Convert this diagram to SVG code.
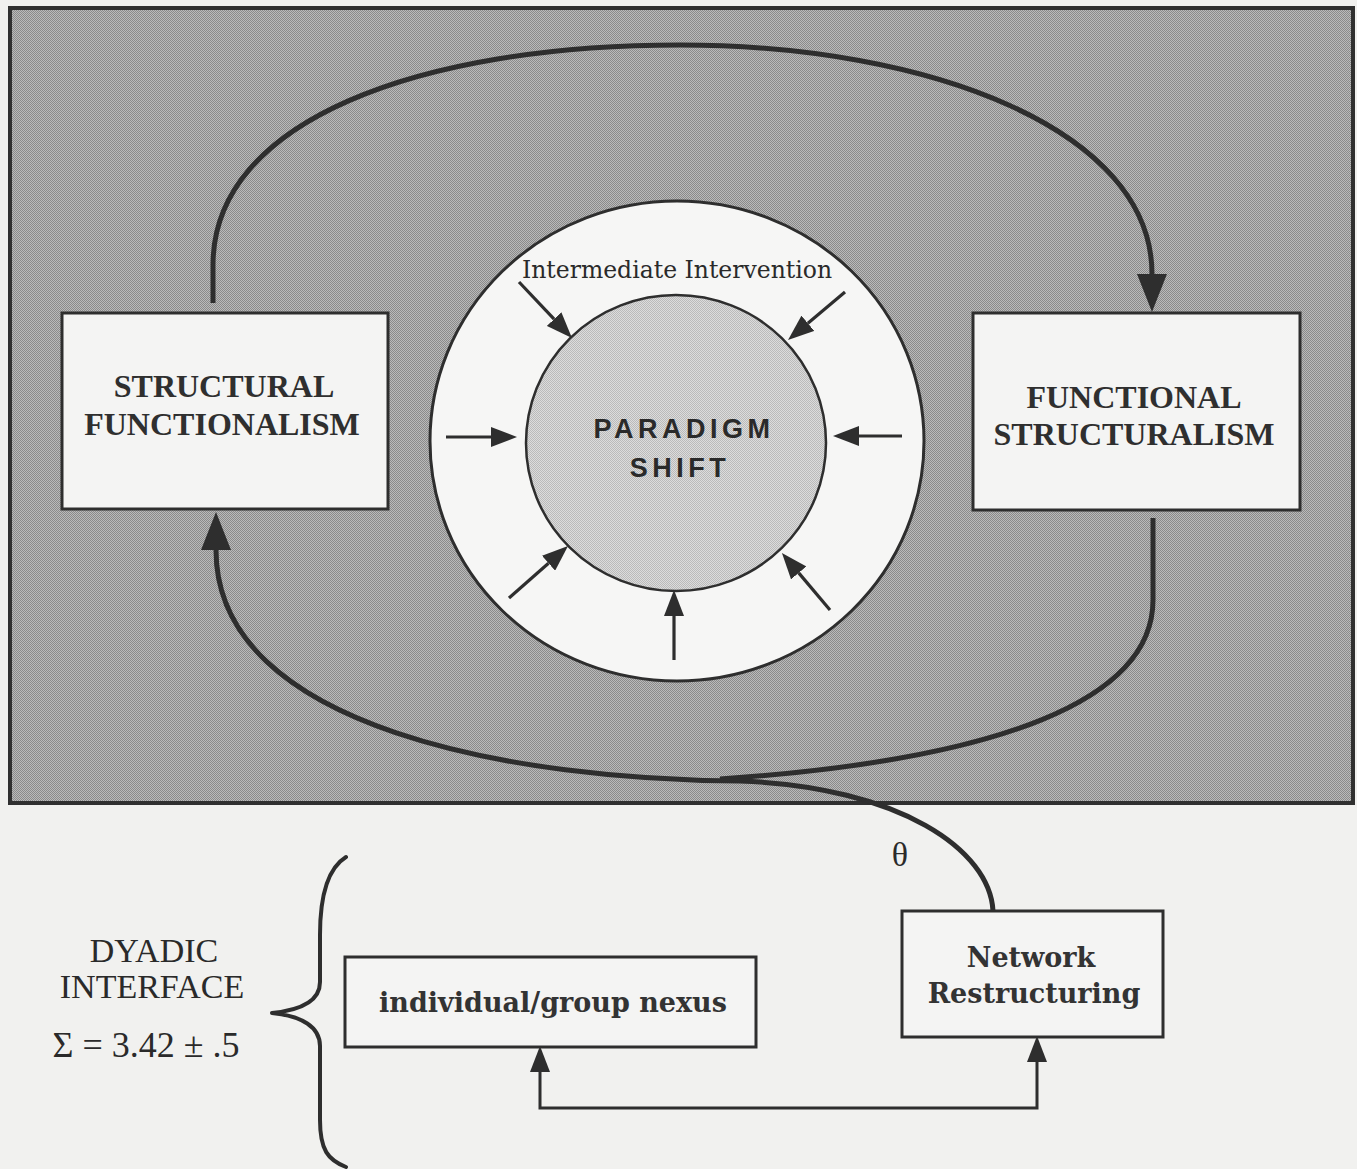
<svg xmlns="http://www.w3.org/2000/svg" width="1357" height="1169" viewBox="0 0 1357 1169">
<style>
  .panel{fill:url(#dotDark);stroke:#303030;stroke-width:4}
  .box{fill:#f4f4f3;stroke:#2e2e2e;stroke-width:3}
  .ring{fill:#f6f6f5;stroke:#2e2e2e;stroke-width:3}
  .core{fill:url(#dotLight);stroke:#2e2e2e;stroke-width:2.5}
  .thick{fill:none;stroke:#2e2e2e;stroke-width:5}
  .thin{fill:none;stroke:#2e2e2e;stroke-width:3.2}
  .link{fill:none;stroke:#2e2e2e;stroke-width:3}
  .brace{fill:none;stroke:#2e2e2e;stroke-width:4;stroke-linecap:round;stroke-linejoin:round}
  .caps{font-family:"Liberation Serif","Times New Roman",serif;font-weight:bold;font-size:32px;fill:#2f2f2f;text-anchor:middle}
  .capsReg{font-family:"Liberation Serif","Times New Roman",serif;font-size:34px;fill:#2a2a2a;text-anchor:middle}
  .math{font-family:"Liberation Serif","Times New Roman",serif;font-size:36px;fill:#2a2a2a;text-anchor:middle}
  .lower{font-family:"DejaVu Serif","Liberation Serif",serif;font-size:23.5px;fill:#2a2a2a;text-anchor:middle}
  .lowerBold{font-family:"DejaVu Serif","Liberation Serif",serif;font-weight:bold;font-size:27px;fill:#333333;text-anchor:middle}
  .sans{font-family:"Liberation Sans",Arial,sans-serif;font-weight:bold;font-size:27px;letter-spacing:4.5px;fill:#2a2a2a;text-anchor:middle}
</style>
<defs>
  <pattern id="dotDark" width="2" height="2" patternUnits="userSpaceOnUse">
    <rect width="2" height="2" fill="#bababa"/>
    <rect width="1" height="1" fill="#8a8a8a"/>
    <rect x="1" y="1" width="1" height="1" fill="#8a8a8a"/>
  </pattern>
  <pattern id="dotLight" width="2" height="2" patternUnits="userSpaceOnUse">
    <rect width="2" height="2" fill="#dcdcdc"/>
    <rect width="1" height="1" fill="#bababa"/>
    <rect x="1" y="1" width="1" height="1" fill="#bababa"/>
  </pattern>
  <marker id="bigArrow" viewBox="0 0 38 30" refX="0" refY="15" markerWidth="38" markerHeight="30" orient="auto" markerUnits="userSpaceOnUse">
    <path d="M0,0 L38,15 L0,30 Z" fill="#2e2e2e"/>
  </marker>
  <marker id="smallArrow" viewBox="0 0 26 20" refX="0" refY="10" markerWidth="26" markerHeight="20" orient="auto-start-reverse" markerUnits="userSpaceOnUse">
    <path d="M0,0 L26,10 L0,20 Z" fill="#2e2e2e"/>
  </marker>
</defs>

<rect width="1357" height="1169" fill="#f1f1ef"/>

<g id="frame">
  <rect class="panel" x="10" y="8" width="1343" height="795"/>
</g>

<g id="intermediate-intervention">
  <ellipse class="ring" cx="677" cy="441" rx="247" ry="240"/>
  <text class="lower" x="677" y="278">Intermediate Intervention</text>
</g>

<g id="paradigm-shift">
  <ellipse class="core" cx="676" cy="443" rx="150" ry="148"/>
  <text class="sans" x="684" y="438">PARADIGM</text>
  <text class="sans" x="680" y="477">SHIFT</text>
</g>

<g id="structural-functionalism">
  <rect class="box" x="62" y="313" width="326" height="196"/>
  <text class="caps" x="224" y="397">STRUCTURAL</text>
  <text class="caps" x="222" y="435">FUNCTIONALISM</text>
</g>

<g id="functional-structuralism">
  <rect class="box" x="973" y="313" width="327" height="197"/>
  <text class="caps" x="1134" y="408">FUNCTIONAL</text>
  <text class="caps" x="1134" y="445">STRUCTURALISM</text>
</g>

<g id="dyadic-interface">
  <path class="brace" d="M346,857 C328,868 320,895 320,935 L320,982 C320,1000 302,1010 272,1013 C302,1016 320,1027 320,1046 L320,1120 C320,1150 328,1160 346,1167"/>
  <text class="capsReg" x="154" y="962">DYADIC</text>
  <text class="capsReg" x="152" y="998">INTERFACE</text>
  <text class="math" x="146" y="1057">Σ = 3.42 ± .5</text>
</g>

<g id="individual-group-nexus">
  <rect class="box" x="345" y="957" width="411" height="90"/>
  <text class="lowerBold" x="553" y="1012">individual/group nexus</text>
</g>

<g id="network-restructuring">
  <rect class="box" x="902" y="911" width="261" height="126"/>
  <text class="lowerBold" x="1031" y="967">Network</text>
  <text class="lowerBold" x="1034" y="1003">Restructuring</text>
</g>

<g id="connectors">
  <path class="thick" marker-end="url(#bigArrow)" d="M213,303 L213,265 C213,120 420,45 680,45 C930,45 1152,130 1152,274"/>
  <path class="thick" d="M1153,518 L1153,600 C1153,700 1000,760 720,779"/>
  <path class="thick" marker-end="url(#bigArrow)" d="M993,911 C990,850 900,787 740,781 C520,780 216,730 216,550"/>
  <path class="link" marker-start="url(#smallArrow)" marker-end="url(#smallArrow)" d="M540,1072 L540,1108 L1037,1108 L1037,1062"/>
  <text class="math" x="900" y="866" style="font-size:34px">θ</text>
  <g id="ring-arrows">
    <path class="thin" marker-end="url(#smallArrow)" d="M519,282 L554.1,319.1"/>
    <path class="thin" marker-end="url(#smallArrow)" d="M845,292 L807.9,323.3"/>
    <path class="thin" marker-end="url(#smallArrow)" d="M446,437 L491,437"/>
    <path class="thin" marker-end="url(#smallArrow)" d="M902,436 L859,436"/>
    <path class="thin" marker-end="url(#smallArrow)" d="M509,598 L548.5,563.2"/>
    <path class="thin" marker-end="url(#smallArrow)" d="M674,660 L674,616"/>
    <path class="thin" marker-end="url(#smallArrow)" d="M830,610 L798.7,572.9"/>
  </g>
</g>
</svg>
